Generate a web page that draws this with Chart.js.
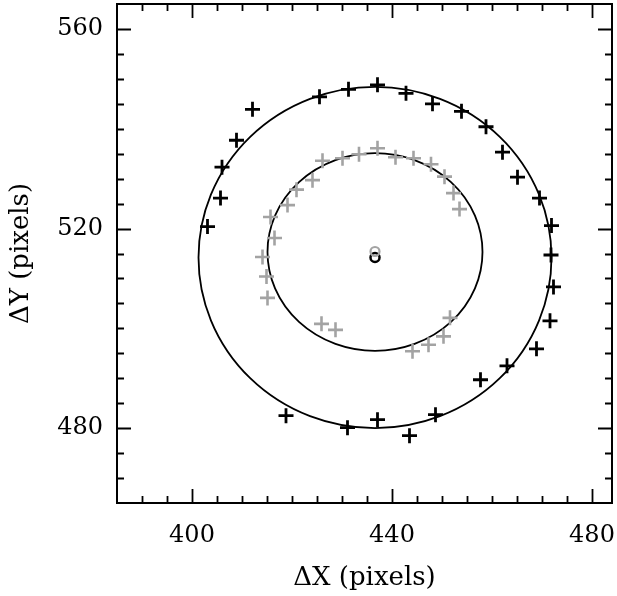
<!DOCTYPE html>
<html>
<head>
<meta charset="utf-8">
<script src="https://cdn.jsdelivr.net/npm/chart.js@4"></script>
<style>
  html, body { margin: 0; padding: 0; background: #fff; }
  #wrap { width: 617px; height: 596px; }
</style>
</head>
<body>
<div id="wrap"><canvas id="chart" width="617" height="596"></canvas></div>
<script>
// outer ring, black crosses
const blackX = [403.1, 405.7, 406.0, 408.9, 412.1, 425.5, 431.3, 437.1, 442.8, 448.1, 453.9, 458.8, 462.1, 465.1,
  469.5, 471.9, 471.8, 472.3, 471.6, 468.9, 463.0, 457.7, 448.7, 443.5, 437.1, 431.1, 418.8];
const blackY = [520.4, 526.1, 532.3, 537.7, 543.9, 546.4, 547.9, 548.8, 547.1, 545.0, 543.5, 540.4, 535.3, 530.3,
  526.1, 520.6, 514.7, 508.3, 501.5, 495.9, 492.5, 489.7, 482.7, 478.5, 481.7, 480.1, 482.5];

// inner ring, grey crosses
const grayX = [414.1, 414.9, 415.1, 416.5, 415.7, 419.1, 420.9, 424.1, 426.1, 430.1, 433.4, 437.1, 440.7, 444.3,
  447.8, 450.5, 452.3, 453.5, 451.6, 450.3, 447.3, 444.1, 425.9, 428.7];
const grayY = [514.3, 510.4, 506.1, 518.1, 522.3, 524.7, 527.8, 529.7, 533.6, 534.1, 534.9, 536.1, 534.3, 534.1,
  532.9, 530.4, 527.1, 523.9, 502.1, 498.4, 496.7, 495.4, 500.9, 499.7];

// centres
const centerBlack = [436.6, 514.2];
const centerGray = [436.6, 515.4];

// fitted rings: cx, cy, rx, ry
const outerFit = [436.6, 514.2, 35.3, 34.2];
const innerFit = [436.6, 515.3, 21.5, 19.8];

const xTicks = [400, 440, 480];
const yTicks = [480, 520, 560];
const xRange = [385, 484];
const yRange = [465, 565];

const fontFam = "'DejaVu Serif', serif";

function toPts(xs, ys) {
  return xs.map((x, i) => ({ x: x, y: ys[i] }));
}

// no extra room for overhanging labels, the box is fixed
function noPad(s) {
  s.paddingLeft = 0; s.paddingRight = 0;
  s.paddingTop = 0; s.paddingBottom = 0;
}

// frame + ticks pointing inwards on all four sides
const framePlugin = {
  id: "frame",
  afterDraw(chart) {
    const ctx = chart.ctx;
    const a = chart.chartArea;
    const sx = chart.scales.x, sy = chart.scales.y;
    ctx.save();
    ctx.strokeStyle = "#000";
    ctx.lineWidth = 1.8;
    ctx.beginPath();
    for (let v = Math.ceil(xRange[0] / 5) * 5; v <= xRange[1]; v += 5) {
      if (v <= xRange[0] || v >= xRange[1]) continue;
      const len = xTicks.includes(v) ? 14 : 7;
      const px = Math.round(sx.getPixelForValue(v)) + 0.5;
      ctx.moveTo(px, a.bottom); ctx.lineTo(px, a.bottom - len);
      ctx.moveTo(px, a.top); ctx.lineTo(px, a.top + len);
    }
    for (let v = Math.ceil(yRange[0] / 5) * 5; v <= yRange[1]; v += 5) {
      if (v <= yRange[0] || v >= yRange[1]) continue;
      const len = yTicks.includes(v) ? 14 : 7;
      const py = Math.round(sy.getPixelForValue(v)) + 0.5;
      ctx.moveTo(a.left, py); ctx.lineTo(a.left + len, py);
      ctx.moveTo(a.right, py); ctx.lineTo(a.right - len, py);
    }
    ctx.stroke();
    ctx.lineWidth = 2;
    ctx.strokeRect(a.left, a.top, a.right - a.left, a.bottom - a.top);
    ctx.restore();
  }
};

// fitted rings, drawn through the scales
const ringPlugin = {
  id: "rings",
  beforeDatasetsDraw(chart) {
    const ctx = chart.ctx;
    const sx = chart.scales.x, sy = chart.scales.y;
    ctx.save();
    ctx.strokeStyle = "#000";
    ctx.lineWidth = 1.8;
    [outerFit, innerFit].forEach(f => {
      const cx = sx.getPixelForValue(f[0]);
      const cy = sy.getPixelForValue(f[1]);
      const rx = Math.abs(sx.getPixelForValue(f[0] + f[2]) - cx);
      const ry = Math.abs(sy.getPixelForValue(f[1] + f[3]) - cy);
      ctx.beginPath();
      ctx.ellipse(cx, cy, rx, ry, 0, 0, Math.PI * 2);
      ctx.stroke();
    });
    ctx.restore();
  }
};

const chart = new Chart(document.getElementById("chart"), {
  type: "scatter",
  data: {
    datasets: [
      {
        data: toPts(grayX, grayY),
        pointStyle: "cross",
        pointRadius: 7.5,
        borderColor: "#a3a3a3",
        borderWidth: 2.6
      },
      {
        data: toPts(blackX, blackY),
        pointStyle: "cross",
        pointRadius: 7.5,
        borderColor: "#000",
        borderWidth: 2.8
      },
      {
        data: [{ x: centerGray[0], y: centerGray[1] }],
        pointStyle: "circle",
        pointRadius: 4.5,
        backgroundColor: "rgba(0,0,0,0)",
        borderColor: "#a3a3a3",
        borderWidth: 2.2
      },
      {
        data: [{ x: centerBlack[0], y: centerBlack[1] }],
        pointStyle: "circle",
        pointRadius: 4.5,
        backgroundColor: "rgba(0,0,0,0)",
        borderColor: "#000",
        borderWidth: 2.5
      }
    ]
  },
  options: {
    responsive: false,
    animation: false,
    devicePixelRatio: 1,
    layout: { autoPadding: false, padding: { top: 4, right: 5, left: 0, bottom: 0 } },
    plugins: {
      legend: { display: false },
      tooltip: { enabled: false }
    },
    scales: {
      x: {
        type: "linear",
        min: xRange[0],
        max: xRange[1],
        afterBuildTicks: s => { s.ticks = xTicks.map(v => ({ value: v })); },
        afterFit: s => { s.height = 93; noPad(s); },
        grid: { display: false, drawTicks: false },
        border: { display: false },
        ticks: {
          padding: 18,
          color: "#000",
          font: { family: fontFam, size: 24 }
        },
        title: {
          display: true,
          text: "ΔX (pixels)",
          color: "#000",
          font: { family: fontFam, size: 26 },
          padding: { top: 0, bottom: 2 }
        }
      },
      y: {
        type: "linear",
        min: yRange[0],
        max: yRange[1],
        afterBuildTicks: s => { s.ticks = yTicks.map(v => ({ value: v })); },
        afterFit: s => { s.width = 117; noPad(s); },
        grid: { display: false, drawTicks: false },
        border: { display: false },
        ticks: {
          padding: 14,
          color: "#000",
          font: { family: fontFam, size: 24 }
        },
        title: {
          display: true,
          text: "ΔY (pixels)",
          color: "#000",
          font: { family: fontFam, size: 26 },
          padding: { top: 6, bottom: 0 }
        }
      }
    }
  },
  plugins: [ringPlugin, framePlugin]
});
</script>
</body>
</html>
